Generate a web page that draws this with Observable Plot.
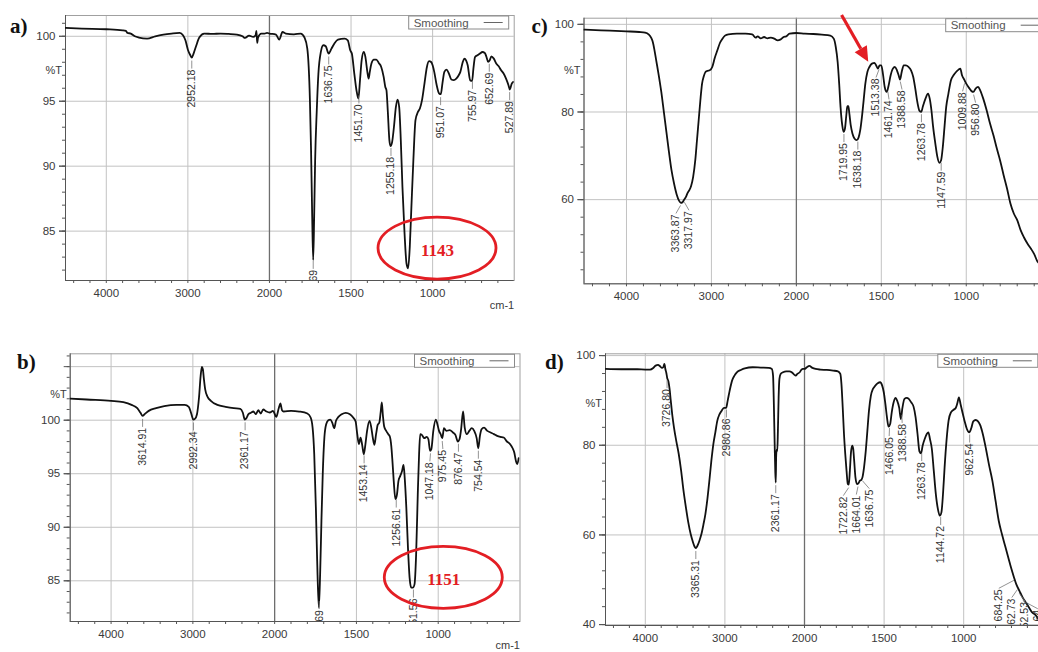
<!DOCTYPE html>
<html><head><meta charset="utf-8">
<script src="https://cdn.jsdelivr.net/npm/d3@7"></script>
<script src="https://cdn.jsdelivr.net/npm/@observablehq/plot@0.6"></script>
<style>
html,body{margin:0;padding:0;background:#fff;overflow:hidden;width:1038px;height:652px}
#page{position:relative;width:1038px;height:652px;overflow:hidden;background:#fff}
.panel{position:absolute}
.panel svg{display:block;max-width:none !important}
#tags{position:absolute;left:0;top:0}
</style></head><body><div id="page"></div>
<script>
const FONT = "'Liberation Sans', Arial, Helvetica, sans-serif";
const SERIF = "'Liberation Serif', 'Times New Roman', serif";
const RED = "#e31e24";

// wavenumber axis (cm-1): 4500 -> 2000 normal, 2000 -> 500 expanded 2x
const toAxis = wn => wn >= 2000 ? 4500 - wn : 2500 + 2 * (2000 - wn);
const fromAxis = u => u <= 2500 ? 4500 - u : 2000 - (u - 2500) / 2;
const AXIS_DOMAIN = [toAxis(4500), toAxis(500)];
const xMajorTicks = [4000, 3000, 2000, 1500, 1000];
const xMinorTicks = [4400,4200,4000,3800,3600,3400,3200,3000,2800,2600,2400,2200,2000,1900,1800,1700,1600,1500,1400,1300,1200,1100,1000,900,800,700,600];

// ---------- panel a ----------
const spectrumA = [[4500,100.64],[4300,100.59],[4000,100.54],[3800,100.46],[3760,100.41],[3740,100.26],[3700,100.21],[3650,100.0],[3600,99.9],[3500,99.82],[3400,100.0],[3300,100.13],[3200,100.21],[3100,100.26],[3060,100.08],[3030,99.69],[3000,98.97],[2970,98.54],[2952,98.36],[2930,98.67],[2900,99.23],[2860,99.9],[2800,100.21],[2700,100.18],[2600,100.21],[2500,100.18],[2400,100.13],[2330,100.0],[2300,99.87],[2250,100.05],[2200,99.95],[2170,100.08],[2160,100.41],[2150,99.49],[2140,99.9],[2100,100.21],[2060,100.21],[2030,100.26],[2000,100.21],[1960,100.13],[1940,99.74],[1920,100.33],[1900,100.21],[1850,100.15],[1808,100.21],[1785,99.9],[1768,99.05],[1752,95.08],[1745,91.23],[1738,86.1],[1732,82.77],[1726,86.1],[1720,90.46],[1710,94.3],[1700,97.13],[1685,98.8],[1670,99.31],[1655,99.23],[1637,98.67],[1620,99.05],[1600,99.49],[1580,99.74],[1540,99.82],[1520,99.69],[1505,98.92],[1495,98.67],[1480,97.13],[1465,95.72],[1455,95.21],[1445,96.62],[1435,98.15],[1422,98.8],[1412,98.41],[1400,97.26],[1392,96.74],[1385,97.26],[1375,97.9],[1360,98.21],[1345,98.21],[1330,97.95],[1315,97.64],[1300,96.87],[1290,96.1],[1283,95.85],[1275,94.31],[1265,92.0],[1258,91.54],[1248,91.87],[1238,92.9],[1225,94.56],[1215,95.13],[1205,94.56],[1195,92.0],[1185,88.41],[1172,84.82],[1160,82.51],[1150,82.13],[1140,83.79],[1130,86.87],[1118,90.46],[1105,93.54],[1090,94.18],[1078,94.44],[1065,95.08],[1050,96.36],[1035,97.64],[1022,98.08],[1010,98.03],[1000,97.77],[990,97.26],[975,96.23],[960,95.59],[950,95.54],[940,96.36],[928,97.26],[915,97.44],[900,97.13],[885,96.67],[870,96.62],[855,96.74],[840,97.0],[830,97.26],[815,98.03],[805,98.28],[795,98.15],[785,97.77],[770,96.62],[758,96.56],[750,97.51],[740,98.41],[725,98.54],[710,98.67],[695,98.79],[680,98.72],[670,98.41],[660,98.03],[650,98.15],[640,98.46],[625,98.28],[610,97.9],[595,97.69],[580,97.38],[565,97.13],[550,96.74],[535,96.23],[527,95.9],[515,96.36],[505,96.49]];
const peaksA = [2952.18, 1731.69, 1636.75, 1451.70, 1255.18, 951.07, 755.97, 652.69, 527.89];
const yLabelsA = [100, 95, 90, 85];
const yMinorA = [82,83,84,85,86,87,88,89,90,91,92,93,94,95,96,97,98,99,100,101];
const calloutsA = [{wn: 970, t: 83.66, text: "1143"}];

// ---------- panel b ----------
const spectrumB = [[4500,102.02],[4300,101.93],[4000,101.81],[3850,101.68],[3750,101.43],[3680,101.12],[3640,100.69],[3615,100.4],[3590,100.56],[3540,100.87],[3450,101.12],[3350,101.31],[3200,101.43],[3100,101.43],[3050,101.25],[3020,100.62],[2995,100.06],[2975,100.12],[2950,100.56],[2925,102.12],[2905,104.14],[2890,104.98],[2878,104.77],[2865,103.83],[2850,102.9],[2820,102.18],[2780,101.81],[2700,101.43],[2600,101.25],[2500,101.12],[2420,101.06],[2390,100.72],[2365,100.06],[2345,100.19],[2320,100.56],[2290,100.69],[2260,100.81],[2230,100.56],[2200,100.93],[2170,100.62],[2140,101.0],[2100,100.81],[2060,100.72],[2020,100.87],[1990,100.31],[1975,101.12],[1965,101.56],[1955,100.93],[1945,100.81],[1900,100.87],[1850,100.81],[1800,100.62],[1780,100.25],[1768,99.31],[1758,96.82],[1748,91.84],[1740,86.85],[1730,82.49],[1722,85.61],[1714,90.6],[1706,94.95],[1696,98.38],[1685,99.63],[1672,100.0],[1660,100.06],[1648,99.78],[1636,99.25],[1625,99.94],[1610,100.31],[1590,100.56],[1565,100.69],[1540,100.56],[1520,100.25],[1505,99.88],[1495,98.69],[1485,97.76],[1475,98.38],[1465,97.7],[1455,96.82],[1445,97.76],[1435,99.0],[1420,99.94],[1410,99.38],[1400,98.38],[1390,97.7],[1380,98.69],[1370,99.56],[1360,99.78],[1352,100.72],[1345,101.65],[1338,100.4],[1330,99.38],[1318,99.0],[1305,98.69],[1295,98.44],[1287,97.6],[1280,96.2],[1272,94.33],[1262,92.62],[1252,93.08],[1243,94.33],[1232,94.8],[1222,95.2],[1212,95.83],[1205,94.64],[1195,91.84],[1185,88.1],[1175,85.3],[1165,84.36],[1155,84.36],[1145,84.67],[1135,87.48],[1125,93.08],[1117,96.82],[1110,98.69],[1100,98.63],[1085,98.32],[1070,98.44],[1060,98.22],[1050,97.13],[1042,97.29],[1030,99.0],[1015,100.06],[1005,99.63],[995,99.0],[985,98.69],[975,98.32],[965,99.25],[950,99.0],[930,99.07],[910,98.85],[895,98.63],[880,98.01],[870,98.22],[860,99.16],[848,100.81],[838,99.31],[825,98.69],[810,99.0],[795,99.25],[780,99.0],[765,98.32],[755,97.38],[745,98.54],[735,99.16],[720,99.31],[700,99.0],[680,98.85],[660,98.7],[640,98.54],[620,98.44],[600,98.38],[580,98.01],[560,97.76],[545,97.38],[535,96.98],[525,96.2],[517,95.89],[508,96.45]];
const peaksB = [3614.91, 2992.34, 2361.17, 1727.69, 1453.14, 1256.61, 1151.56, 1047.18, 975.45, 876.47, 754.54];
const yLabelsB = [100, 95, 90, 85];
const yGridB = [105, 100, 95, 90, 85];
const yMinorB = [82,83,84,85,86,87,88,89,90,91,92,93,94,95,96,97,98,99,100,101,102,103,104,105,106];
const calloutsB = [{wn: 966, t: 85.28, text: "1151"}];

// ---------- panel c ----------
const spectrumC = [[4500,98.78],[4300,98.63],[4000,98.4],[3850,98.25],[3780,98.1],[3740,97.72],[3710,96.96],[3690,95.97],[3670,94.07],[3650,91.79],[3620,88.37],[3590,84.57],[3560,80.02],[3530,75.46],[3500,70.9],[3470,66.72],[3440,63.68],[3410,61.25],[3380,59.73],[3360,59.27],[3340,59.42],[3320,60.03],[3300,60.64],[3280,61.55],[3260,62.16],[3240,63.07],[3215,65.2],[3190,69.0],[3170,73.56],[3150,78.12],[3130,82.67],[3110,86.47],[3090,88.15],[3070,89.13],[3050,89.36],[3020,89.51],[2990,90.27],[2960,92.4],[2930,94.07],[2900,95.74],[2870,96.73],[2840,97.42],[2800,97.72],[2700,97.87],[2600,97.87],[2520,97.72],[2480,96.96],[2455,97.26],[2420,96.81],[2380,97.11],[2340,96.81],[2300,96.96],[2260,96.73],[2220,96.35],[2190,96.5],[2150,97.11],[2120,97.26],[2080,97.87],[2000,98.02],[1950,97.87],[1900,97.8],[1850,97.64],[1800,97.42],[1780,96.73],[1768,94.83],[1757,91.41],[1748,86.47],[1740,81.16],[1730,76.98],[1722,75.46],[1714,76.22],[1706,79.26],[1700,81.31],[1694,81.31],[1688,79.64],[1680,76.98],[1670,75.08],[1658,73.94],[1645,73.56],[1634,74.16],[1624,75.84],[1614,78.88],[1604,82.67],[1594,86.47],[1582,89.13],[1570,90.27],[1555,91.03],[1540,91.19],[1528,90.43],[1520,89.89],[1510,90.65],[1500,90.65],[1490,88.6],[1480,85.71],[1468,84.57],[1458,85.87],[1445,88.37],[1432,89.89],[1420,90.27],[1408,89.51],[1398,88.37],[1390,87.39],[1380,89.13],[1368,90.65],[1355,90.65],[1340,90.27],[1325,89.51],[1312,87.99],[1300,85.33],[1288,82.29],[1275,80.24],[1265,80.02],[1255,81.31],[1240,83.05],[1225,84.19],[1215,83.05],[1205,80.4],[1195,76.6],[1182,72.8],[1170,69.76],[1158,68.39],[1148,69.0],[1138,72.04],[1128,76.6],[1118,81.16],[1105,84.19],[1090,87.23],[1075,88.37],[1060,89.13],[1045,89.67],[1035,89.89],[1025,88.37],[1012,87.39],[1000,86.47],[985,85.56],[970,84.8],[958,84.57],[945,85.33],[930,85.71],[918,84.95],[900,83.05],[880,80.4],[860,77.36],[840,74.7],[820,71.66],[800,68.84],[780,65.58],[760,62.54],[740,59.12],[720,56.84],[700,55.32],[680,53.04],[660,51.37],[640,50.0],[620,48.86],[600,47.57],[580,45.82],[570,45.44]];
const peaksC = [3363.87, 3317.97, 1719.95, 1638.18, 1513.38, 1461.74, 1388.58, 1263.78, 1147.59, 1009.88, 956.80];
const yLabelsC = [100, 80, 60];
const yMinorC = [44,48,52,56,60,64,68,72,76,80,84,88,92,96,100];
const arrowC = {x1: 1731, y1: 102.0, x2: 1574, y2: 91.36};

// ---------- panel d ----------
const spectrumD = [[4500,97.02],[4300,96.95],[4100,96.95],[4000,96.88],[3940,96.88],[3900,97.25],[3870,97.77],[3840,97.92],[3815,97.62],[3790,97.25],[3775,97.4],[3760,98.14],[3748,97.02],[3735,96.06],[3725,95.01],[3710,94.27],[3695,92.56],[3680,89.96],[3660,86.61],[3640,84.0],[3610,80.88],[3580,78.05],[3550,74.33],[3520,69.87],[3490,66.15],[3460,62.8],[3430,60.19],[3400,58.33],[3380,57.37],[3365,57.07],[3345,57.59],[3320,58.71],[3295,60.19],[3270,62.28],[3245,64.66],[3220,68.01],[3195,72.1],[3170,76.56],[3145,80.28],[3120,82.89],[3095,85.49],[3070,86.83],[3040,87.72],[3010,88.32],[2985,88.32],[2965,89.96],[2940,92.19],[2910,94.42],[2880,95.54],[2850,96.28],[2800,96.8],[2750,97.17],[2650,97.4],[2550,97.32],[2450,97.25],[2410,97.02],[2395,95.54],[2385,89.21],[2375,80.5],[2367,74.0],[2361,71.7],[2356,77.5],[2350,79.0],[2342,78.65],[2334,83.26],[2325,90.7],[2315,94.79],[2300,95.91],[2270,96.28],[2230,96.5],[2190,96.5],[2160,96.28],[2130,95.76],[2110,95.54],[2090,95.91],[2060,96.28],[2040,96.8],[2020,97.02],[2000,97.02],[1985,97.4],[1970,97.69],[1950,97.25],[1930,97.02],[1900,96.88],[1860,96.8],[1820,96.65],[1790,96.5],[1775,95.91],[1768,93.68],[1760,88.47],[1752,82.51],[1744,78.05],[1736,74.33],[1728,71.35],[1722,71.2],[1715,74.33],[1708,78.42],[1700,79.91],[1694,79.17],[1688,76.56],[1680,72.84],[1670,71.35],[1662,71.5],[1652,72.1],[1644,72.25],[1636,72.84],[1626,75.07],[1615,78.79],[1605,83.26],[1595,87.72],[1583,91.07],[1570,92.56],[1555,93.3],[1540,93.82],[1525,94.05],[1512,93.3],[1502,91.82],[1492,89.21],[1482,86.24],[1472,84.15],[1462,84.75],[1452,87.35],[1440,89.58],[1428,90.55],[1418,89.96],[1405,88.32],[1395,85.86],[1385,88.32],[1372,90.33],[1358,90.55],[1345,90.33],[1330,89.58],[1315,88.62],[1302,86.24],[1290,82.51],[1278,78.65],[1268,78.2],[1258,79.91],[1245,81.4],[1232,82.51],[1222,82.89],[1212,81.4],[1200,79.17],[1188,74.33],[1175,69.12],[1162,65.77],[1150,64.29],[1140,65.03],[1130,69.12],[1120,75.07],[1108,81.03],[1095,85.49],[1080,87.35],[1065,87.87],[1050,88.32],[1040,89.36],[1030,90.7],[1020,89.21],[1008,87.35],[995,85.49],[980,83.63],[965,82.89],[952,83.85],[940,85.34],[925,85.64],[910,85.34],[895,84.38],[880,82.51],[860,79.17],[840,75.45],[820,72.1],[800,67.63],[780,63.17],[760,60.19],[740,57.59],[720,54.99],[700,52.38],[684,50.52],[670,49.03],[650,47.54],[630,46.06],[610,44.94],[590,43.82],[570,42.71],[550,42.19],[530,41.22]];
const peaksD = [3726.80, 3365.31, 2980.86, 2361.17, 1722.82, 1664.01, 1636.75, 1466.05, 1388.58, 1263.78, 1144.72, 962.54, 684.25, 662.73, 652.53, 628.64];
const yLabelsD = [100, 80, 60, 40];
const yMinorD = [40,44,48,52,56,60,64,68,72,76,80,84,88,92,96,100];

const panels = [
  {tag: "a)", tagX: 10, tagY: 33, left: 0, top: 0, width: 520, height: 320, ml: 65, mr: 6.3, mt: 15, mb: 40,
   yDomain: [81.2, 101.6], yLabels: yLabelsA, yGrid: yLabelsA, yMinor: yMinorA,
   pctT: 97.4, spectrum: spectrumA, peaks: peaksA, callouts: calloutsA, unit: "cm-1", cmDy: 28},
  {tag: "b)", tagX: 17, tagY: 369, left: 0, top: 320, width: 525, height: 332, ml: 69.7, mr: 5.5, mt: 33.3, mb: 31,
   yDomain: [81.2, 106.2], yLabels: yLabelsB, yGrid: yGridB, yMinor: yMinorB,
   pctT: 102.4, spectrum: spectrumB, peaks: peaksB, callouts: calloutsB, unit: "cm-1", cmDy: 27},
  {tag: "c)", tagX: 531.5, tagY: 33, left: 520, top: 0, width: 545, height: 320, ml: 63.5, mr: 14.3, mt: 17.7, mb: 36.7,
   yDomain: [40.8, 101.4], yLabels: yLabelsC, yGrid: yLabelsC, yMinor: yMinorC,
   pctT: 89.5, spectrum: spectrumC, peaks: peaksC, callouts: [], arrow: arrowC, unit: null, cmDy: 26},
  {tag: "d)", tagX: 545, tagY: 369, left: 520, top: 320, width: 540, height: 332, ml: 85, mr: 17.2, mt: 33.3, mb: 27,
   yDomain: [39.8, 100.4], yLabels: yLabelsD, yGrid: yLabelsD, yMinor: yMinorD,
   pctT: 89.4, spectrum: spectrumD, peaks: peaksD, callouts: [], unit: null, cmDy: 26}
];

function curveAt(spec, wn) {
  for (let i = 0; i < spec.length - 1; i++) {
    const [w0, t0] = spec[i], [w1, t1] = spec[i + 1];
    if (wn <= w0 && wn >= w1) return t0 + (t1 - t0) * (wn - w0) / (w1 - w0);
  }
  return spec[spec.length - 1][1];
}

// place peak labels below the curve, nudging apart labels that would overlap
function placeLabels(spec, peaks, xs, ys) {
  const items = peaks.map(wn => ({wn, label: wn.toFixed(2), px: xs(toAxis(wn)), py: ys(curveAt(spec, wn))}))
    .sort((a, b) => a.px - b.px);
  items.forEach(d => d.lx = d.px);
  const gap = 13;
  for (let it = 0; it < 80; it++) {
    for (let i = 1; i < items.length; i++) {
      const d = items[i].lx - items[i - 1].lx;
      if (d < gap) { const s = (gap - d) / 2; items[i - 1].lx -= s; items[i].lx += s; }
    }
  }
  return items.map(d => ({
    u: toAxis(d.wn), label: d.label,
    y1: ys.invert(d.py + 3), lu: xs.invert(d.lx), y2: ys.invert(d.py + 11), ty: ys.invert(d.py + 12)
  }));
}

const page = document.getElementById("page");
const fmtWn = u => String(Math.round(fromAxis(u)));

for (const p of panels) {
  const xs = d3.scaleLinear().domain(AXIS_DOMAIN).range([p.ml, p.width - p.mr]);
  const ys = d3.scaleLinear().domain(p.yDomain).range([p.height - p.mb, p.mt]);
  const labels = placeLabels(p.spectrum, p.peaks, xs, ys);
  const rows = p.spectrum.map(([wn, t]) => ({u: toAxis(wn), t}));

  const legend = (index, scales, values, dims) => {
    const right = dims.width - dims.marginRight - 5;
    const x0 = right - 100, y0 = dims.marginTop + 1;
    const g = d3.create("svg:g");
    g.append("rect").attr("x", x0).attr("y", y0).attr("width", 100).attr("height", 13)
      .attr("fill", "#fff").attr("stroke", "#8a8a8a").attr("stroke-width", 1);
    g.append("text").attr("x", x0 + 5).attr("y", y0 + 10.5).attr("font-size", 11.5)
      .attr("text-anchor", "start").attr("font-family", FONT).attr("fill", "#555").text("Smoothing");
    g.append("line").attr("x1", x0 + 75).attr("x2", x0 + 94).attr("y1", y0 + 6.5).attr("y2", y0 + 6.5)
      .attr("stroke", "#666").attr("stroke-width", 1);
    return g.node();
  };

  const ellipses = (index, scales) => {
    const g = d3.create("svg:g");
    for (const c of p.callouts) {
      g.append("ellipse").attr("cx", scales.x(toAxis(c.wn))).attr("cy", scales.y(c.t))
        .attr("rx", 59).attr("ry", 31).attr("fill", "none").attr("stroke", RED).attr("stroke-width", 2.8);
    }
    return g.node();
  };

  const arrow = (index, scales) => {
    const g = d3.create("svg:g");
    if (!p.arrow) return g.node();
    const a = p.arrow;
    const X1 = scales.x(toAxis(a.x1)), Y1 = scales.y(a.y1), X2 = scales.x(toAxis(a.x2)), Y2 = scales.y(a.y2);
    const ang = Math.atan2(Y2 - Y1, X2 - X1), L = 15, W = 7;
    const bx = X2 - L * Math.cos(ang), by = Y2 - L * Math.sin(ang);
    g.append("line").attr("x1", X1).attr("y1", Y1).attr("x2", bx).attr("y2", by)
      .attr("stroke", RED).attr("stroke-width", 3.2);
    const nx = -Math.sin(ang), ny = Math.cos(ang);
    g.append("path").attr("d", `M${X2},${Y2}L${bx + W * nx},${by + W * ny}L${bx - W * nx},${by - W * ny}Z`).attr("fill", RED);
    return g.node();
  };

  const chart = Plot.plot({
    width: p.width, height: p.height,
    marginLeft: p.ml, marginRight: p.mr, marginTop: p.mt, marginBottom: p.mb,
    style: {fontFamily: FONT, background: "transparent", overflow: "visible", maxWidth: "none"},
    x: {domain: AXIS_DOMAIN, label: null},
    y: {domain: p.yDomain, label: null},
    marks: [
      Plot.gridY({ticks: p.yGrid, stroke: "#c2c2c2", strokeOpacity: 1, strokeWidth: 1}),
      Plot.gridX({ticks: xMajorTicks.filter(v => v !== 2000).map(toAxis), stroke: "#c2c2c2", strokeOpacity: 1, strokeWidth: 1}),
      Plot.ruleX([toAxis(2000)], {stroke: "#6e6e6e", strokeWidth: 1.3}),
      Plot.frame({stroke: "#a0a0a0"}),
      Plot.ruleX([AXIS_DOMAIN[0]], {stroke: "#555"}),
      Plot.ruleY([p.yDomain[0]], {stroke: "#555"}),
      Plot.axisY({ticks: p.yMinor, tickSize: 3, tickFormat: () => "", stroke: "#555", label: null}),
      Plot.axisY({ticks: p.yGrid, tickSize: 6, tickFormat: () => "", stroke: "#555", label: null}),
      Plot.axisY({ticks: p.yLabels, tickSize: 6, tickPadding: 4, tickFormat: d => String(d), fontSize: 11.5, fill: "#3a3a3a", stroke: "#555", label: null}),
      Plot.axisX({ticks: xMinorTicks.map(toAxis), tickSize: 3, tickFormat: () => "", stroke: "#555", label: null}),
      Plot.axisX({ticks: xMajorTicks.map(toAxis), tickSize: 0, tickPadding: 8, tickFormat: fmtWn, fontSize: 11.5, fill: "#3a3a3a", label: null}),
      Plot.text(["%T"], {frameAnchor: "left", y: [p.pctT], dx: -20, fontSize: 11, fill: "#3a3a3a"}),
      Plot.text(p.unit ? [p.unit] : [], {frameAnchor: "bottom-right", dy: p.cmDy, textAnchor: "end", fontSize: 11, fill: "#3a3a3a"}),
      Plot.line(rows, {x: "u", y: "t", stroke: "#111", strokeWidth: 1.8, curve: "monotone-x", clip: true}),
      Plot.link(labels, {x1: "u", y1: "y1", x2: "lu", y2: "y2", stroke: "#777", strokeWidth: 0.8, clip: true}),
      Plot.text(labels, {x: "lu", y: "ty", text: "label", rotate: -90, textAnchor: "end", fontSize: 10.5, fill: "#333", clip: true}),
      legend,
      ellipses,
      Plot.text(p.callouts, {x: d => toAxis(d.wn), y: "t", text: "text", dy: 2, fill: RED, fontFamily: SERIF, fontWeight: "bold", fontSize: 17}),
      arrow
    ]
  });
  const div = document.createElement("div");
  div.className = "panel";
  div.style.left = p.left + "px";
  div.style.top = p.top + "px";
  div.style.width = p.width + "px";
  div.style.height = p.height + "px";
  div.appendChild(chart);
  page.appendChild(div);
}

// panel tags a) b) c) d)
const tags = d3.select(page).append("svg").attr("id", "tags").attr("width", 1038).attr("height", 652);
tags.selectAll("text").data(panels).join("text")
  .attr("x", d => d.tagX).attr("y", d => d.tagY)
  .attr("font-family", SERIF).attr("font-weight", "bold").attr("font-size", 21).attr("fill", "#111")
  .text(d => d.tag);
</script></body></html>
